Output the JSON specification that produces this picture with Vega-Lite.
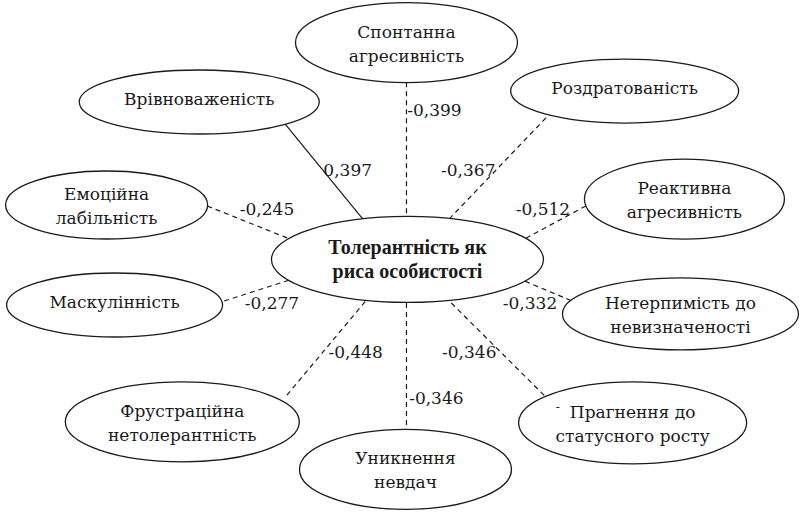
{
  "$schema": "https://vega.github.io/schema/vega-lite/v6.json",
  "width": 801,
  "height": 512,
  "autosize": {"type": "fit", "contains": "padding"},
  "padding": 0,
  "background": "white",
  "config": {"view": {"stroke": null}, "text": {"font": "DejaVu Serif"}},
  "datasets": {
    "nodes": [
      {"id": "spont", "label": "Спонтанна\nагресивність", "x": 408, "y": 42},
      {"id": "vriv", "label": "Врівноваженість", "x": 200, "y": 102},
      {"id": "rozd", "label": "Роздратованість", "x": 627, "y": 91},
      {"id": "emoc", "label": "Емоційна\nлабільність", "x": 107, "y": 206},
      {"id": "mask", "label": "Маскулінність", "x": 115, "y": 307},
      {"id": "center", "label": "Толерантність як\nриса особистості", "x": 409, "y": 261},
      {"id": "reakt", "label": "Реактивна\nагресивність", "x": 687, "y": 200},
      {"id": "neterp", "label": "Нетерпимість до\nневизначеності", "x": 683, "y": 316},
      {"id": "frust", "label": "Фрустраційна\nнетолерантність", "x": 183, "y": 425},
      {"id": "unykn", "label": "Уникнення\nневдач", "x": 407, "y": 473},
      {"id": "prahn", "label": "Прагнення до\nстатусного росту", "x": 635, "y": 426}
    ],
    "edges": [
      {"to": "spont", "r": "-0,399", "kind": "neg", "x1": 408, "y1": 82, "x2": 408, "y2": 218, "lx": 436, "ly": 111},
      {"to": "vriv", "r": "0,397", "kind": "pos", "x1": 286, "y1": 124, "x2": 364, "y2": 220, "lx": 349, "ly": 172},
      {"to": "rozd", "r": "-0,367", "kind": "neg", "x1": 548, "y1": 118, "x2": 452, "y2": 219, "lx": 470, "ly": 172},
      {"to": "emoc", "r": "-0,245", "kind": "neg", "x1": 208, "y1": 207, "x2": 290, "y2": 240, "lx": 268, "ly": 211},
      {"to": "mask", "r": "-0,277", "kind": "neg", "x1": 225, "y1": 303, "x2": 290, "y2": 282, "lx": 273, "ly": 306},
      {"to": "reakt", "r": "-0,512", "kind": "neg", "x1": 588, "y1": 207, "x2": 527, "y2": 240, "lx": 545, "ly": 211},
      {"to": "neterp", "r": "-0,332", "kind": "neg", "x1": 527, "y1": 283, "x2": 572, "y2": 302, "lx": 532, "ly": 306},
      {"to": "frust", "r": "-0,448", "kind": "neg", "x1": 288, "y1": 398, "x2": 367, "y2": 303, "lx": 357, "ly": 355},
      {"to": "unykn", "r": "-0,346", "kind": "neg", "x1": 408, "y1": 305, "x2": 408, "y2": 433, "lx": 438, "ly": 402},
      {"to": "prahn", "r": "-0,346", "kind": "neg", "x1": 453, "y1": 305, "x2": 548, "y2": 400, "lx": 471, "ly": 355}
    ],
    "marks": [
      {"t": "-", "x": 560, "y": 410}
    ]
  },
  "layer": [
    {
      "data": {"name": "edges"},
      "mark": {"type": "rule", "color": "#1a1a1a", "strokeWidth": 1.2},
      "encoding": {
        "x": {"field": "x1", "type": "quantitative", "scale": {"domain": [0, 801], "nice": false, "zero": false}, "axis": null},
        "y": {"field": "y1", "type": "quantitative", "scale": {"domain": [0, 512], "nice": false, "zero": false, "reverse": true}, "axis": null},
        "x2": {"field": "x2"},
        "y2": {"field": "y2"},
        "strokeDash": {"field": "kind", "type": "nominal", "scale": {"domain": ["pos", "neg"], "range": [[1, 0], [5, 4]]}, "legend": null}
      }
    },
    {
      "data": {"name": "nodes"},
      "mark": {"type": "point", "fill": "white", "stroke": "#1a1a1a", "strokeWidth": 1.3, "opacity": 1, "fillOpacity": 1, "size": 4},
      "encoding": {
        "x": {"field": "x", "type": "quantitative"},
        "y": {"field": "y", "type": "quantitative"},
        "shape": {
          "field": "id", "type": "nominal", "legend": null,
          "scale": {
            "domain": ["spont", "vriv", "rozd", "emoc", "mask", "center", "reakt", "neterp", "frust", "unykn", "prahn"],
            "range": [
              "M -111 0 A 111 40 0 1 0 111 0 A 111 40 0 1 0 -111 0 Z",
              "M -120 0 A 120 32 0 1 0 120 0 A 120 32 0 1 0 -120 0 Z",
              "M -114 0 A 114 32 0 1 0 114 0 A 114 32 0 1 0 -114 0 Z",
              "M -101 0 A 101 34 0 1 0 101 0 A 101 34 0 1 0 -101 0 Z",
              "M -108 0 A 108 32 0 1 0 108 0 A 108 32 0 1 0 -108 0 Z",
              "M -136 0 A 136 43 0 1 0 136 0 A 136 43 0 1 0 -136 0 Z",
              "M -100 0 A 100 40 0 1 0 100 0 A 100 40 0 1 0 -100 0 Z",
              "M -118 0 A 118 36 0 1 0 118 0 A 118 36 0 1 0 -118 0 Z",
              "M -117 0 A 117 40 0 1 0 117 0 A 117 40 0 1 0 -117 0 Z",
              "M -106 0 A 106 40 0 1 0 106 0 A 106 40 0 1 0 -106 0 Z",
              "M -114 0 A 114 41 0 1 0 114 0 A 114 41 0 1 0 -114 0 Z"
            ]
          }
        }
      }
    },
    {
      "data": {"name": "nodes"},
      "transform": [{"filter": "datum.id != 'center' && indexof(datum.label, '\\n') < 0"}],
      "mark": {"type": "text", "font": "DejaVu Serif", "fontSize": 17, "align": "center", "baseline": "middle", "color": "#1a1a1a", "dy": -2},
      "encoding": {
        "x": {"field": "x", "type": "quantitative"},
        "y": {"field": "y", "type": "quantitative"},
        "text": {"field": "label"}
      }
    },
    {
      "data": {"name": "nodes"},
      "transform": [{"filter": "datum.id != 'center' && indexof(datum.label, '\\n') >= 0"}],
      "mark": {"type": "text", "font": "DejaVu Serif", "fontSize": 17, "lineHeight": 24, "lineBreak": "\n", "align": "center", "baseline": "middle", "color": "#1a1a1a", "dy": -10},
      "encoding": {
        "x": {"field": "x", "type": "quantitative"},
        "y": {"field": "y", "type": "quantitative"},
        "text": {"field": "label"}
      }
    },
    {
      "data": {"name": "nodes"},
      "transform": [{"filter": "datum.id == 'center'"}],
      "mark": {"type": "text", "font": "Liberation Serif", "fontSize": 20, "fontWeight": "bold", "lineHeight": 24, "lineBreak": "\n", "align": "center", "baseline": "middle", "color": "#1a1a1a", "dy": -11},
      "encoding": {
        "x": {"field": "x", "type": "quantitative"},
        "y": {"field": "y", "type": "quantitative"},
        "text": {"field": "label"}
      }
    },
    {
      "data": {"name": "edges"},
      "mark": {"type": "text", "font": "DejaVu Serif", "fontSize": 17, "align": "center", "baseline": "middle", "color": "#1a1a1a"},
      "encoding": {
        "x": {"field": "lx", "type": "quantitative"},
        "y": {"field": "ly", "type": "quantitative"},
        "text": {"field": "r"}
      }
    },
    {
      "data": {"name": "marks"},
      "mark": {"type": "text", "font": "DejaVu Serif", "fontSize": 12, "align": "center", "baseline": "middle", "color": "#1a1a1a"},
      "encoding": {
        "x": {"field": "x", "type": "quantitative"},
        "y": {"field": "y", "type": "quantitative"},
        "text": {"field": "t"}
      }
    }
  ]
}
